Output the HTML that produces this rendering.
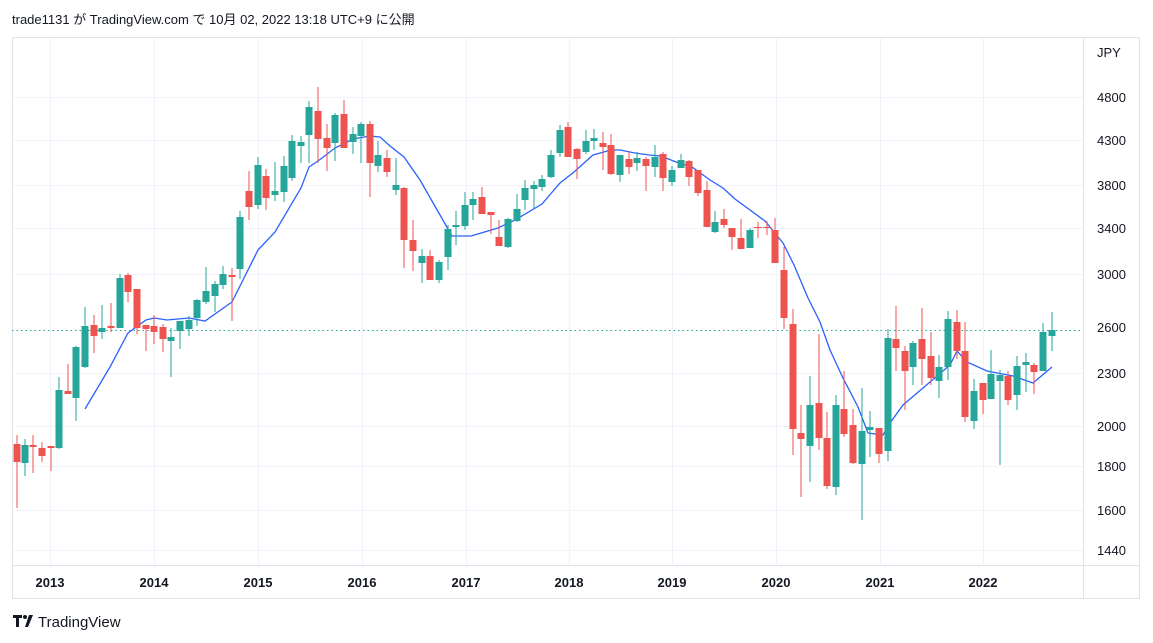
<!DOCTYPE html>
<html><head><meta charset="utf-8"><style>
html,body{margin:0;padding:0;background:#fff;width:1153px;height:643px;overflow:hidden}
svg{display:block;font-family:"Liberation Sans","Noto Sans CJK JP",sans-serif}
</style></head><body>
<svg width="1153" height="643" viewBox="0 0 1153 643" xmlns="http://www.w3.org/2000/svg">
<rect width="1153" height="643" fill="#fff"/>
<text x="12" y="24" font-size="13" fill="#131722">trade1131 が TradingView.com で 10月 02, 2022 13:18 UTC+9 に公開</text>
<rect x="12.5" y="37.5" width="1127" height="561" fill="none" stroke="#e0e3eb"/>
<g stroke="#f0f3fa" stroke-width="1">
<path d="M12 97.5H1083M12 140.5H1083M12 185.5H1083M12 228.5H1083M12 274.5H1083M12 373.5H1083M12 426.5H1083M12 466.5H1083M12 510.5H1083M12 550.5H1083"/>
<path d="M50.5 38V565M154.5 38V565M258.5 38V565M362.5 38V565M466.5 38V565M569.5 38V565M672.5 38V565M776.5 38V565M880.5 38V565M983.5 38V565"/>
</g>
<path d="M1083.5 38V598M12 565.5H1140" stroke="#e0e3eb"/>
<path d="M12 330.5H1083" stroke="#26a69a" stroke-dasharray="1.5,3"/>
<polyline fill="none" stroke="#2962ff" stroke-width="1.3" points="85,409 110,367 128,333 146,320 154,318 167,320 189,318 205,321 232,302 258,250 275,232 301,188 309,167 318,161 335,148 353,139 370,136 380,137 390,146 404,157 420,180 440,215 452,236 471,236 498,228 515,220 542,204 560,183 574,172 593,155 611,150 620,150 635,153 649,155 661,156 676,162 692,167 710,180 723,188 735,199 765,221 783,243 794,265 808,298 820,322 830,350 843,378 858,407 868,433 883,435 890,423 903,405 950,365 957,351 967,362 987,371 1013,376 1033,383 1052,367"/>
<g stroke="#26a69a" stroke-width="1" fill="none">
<path d="M25 439V476M59 377V449M76 346V421M85 307V368M102 305V339M120 274V328M171 328V377M180 321V349M189 316V336M197 299V326M206 267V304M215 281V312M223 266V289M240 211V279M258 157V209M275 162V201M284 156V202M292 135V181M301 136V163M309 101V163M335 113V161M353 127V154M361 122V163M378 141V172M396 158V195M422 249V283M439 260V283M448 225V270M456 211V245M465 192V230M473 192V220M508 218V248M517 194V222M525 180V210M534 181V208M542 175V191M551 150V178M560 125V157M586 130V154M594 129V150M620 155V182M637 152V171M655 145V177M672 166V186M681 154V168M715 211V233M750 228V248M810 376V482M836 395V495M862 388V520M870 411V457M888 329V461M913 341V385M939 355V398M948 311V380M974 379V429M991 350V399M1000 370V465M1017 356V410M1026 353V392M1043 323V371M1052 312V351"/>
</g>
<g fill="#26a69a">
<rect x="21.5" y="445" width="7" height="18"/><rect x="55.5" y="390" width="7" height="58"/><rect x="72.5" y="347" width="7" height="51"/><rect x="81.5" y="326" width="7" height="41"/><rect x="98.5" y="328" width="7" height="4"/><rect x="116.5" y="278" width="7" height="50"/><rect x="167.5" y="337" width="7" height="4"/><rect x="176.5" y="321" width="7" height="10"/><rect x="185.5" y="320" width="7" height="9"/><rect x="193.5" y="300" width="7" height="18"/><rect x="202.5" y="291" width="7" height="11"/><rect x="211.5" y="284" width="7" height="12"/><rect x="219.5" y="274" width="7" height="11"/><rect x="236.5" y="217" width="7" height="52"/><rect x="254.5" y="165" width="7" height="40"/><rect x="271.5" y="191" width="7" height="4"/><rect x="280.5" y="166" width="7" height="26"/><rect x="288.5" y="141" width="7" height="37"/><rect x="297.5" y="142" width="7" height="4"/><rect x="305.5" y="107" width="7" height="28"/><rect x="331.5" y="115" width="7" height="28"/><rect x="349.5" y="134" width="7" height="8"/><rect x="357.5" y="124" width="7" height="12"/><rect x="374.5" y="155" width="7" height="11"/><rect x="392.5" y="185" width="7" height="5"/><rect x="418.5" y="256" width="7" height="7"/><rect x="435.5" y="262" width="7" height="18"/><rect x="444.5" y="229" width="7" height="28"/><rect x="452.5" y="225" width="7" height="2"/><rect x="461.5" y="205" width="7" height="21"/><rect x="469.5" y="199" width="7" height="6"/><rect x="504.5" y="219" width="7" height="28"/><rect x="513.5" y="209" width="7" height="12"/><rect x="521.5" y="188" width="7" height="12"/><rect x="530.5" y="185" width="7" height="4"/><rect x="538.5" y="179" width="7" height="8"/><rect x="547.5" y="155" width="7" height="22"/><rect x="556.5" y="130" width="7" height="23"/><rect x="582.5" y="141" width="7" height="11"/><rect x="590.5" y="138" width="7" height="3"/><rect x="616.5" y="155" width="7" height="20"/><rect x="633.5" y="158" width="7" height="5"/><rect x="651.5" y="157" width="7" height="10"/><rect x="668.5" y="170" width="7" height="12"/><rect x="677.5" y="160" width="7" height="8"/><rect x="711.5" y="222" width="7" height="10"/><rect x="746.5" y="230" width="7" height="18"/><rect x="806.5" y="405" width="7" height="41"/><rect x="832.5" y="405" width="7" height="82"/><rect x="858.5" y="431" width="7" height="33"/><rect x="866.5" y="427" width="7" height="3"/><rect x="884.5" y="338" width="7" height="113"/><rect x="909.5" y="343" width="7" height="24"/><rect x="935.5" y="367" width="7" height="14"/><rect x="944.5" y="319" width="7" height="48"/><rect x="970.5" y="391" width="7" height="30"/><rect x="987.5" y="374" width="7" height="25"/><rect x="996.5" y="375" width="7" height="6"/><rect x="1013.5" y="366" width="7" height="29"/><rect x="1022.5" y="362" width="7" height="3"/><rect x="1039.5" y="332" width="7" height="39"/><rect x="1048.5" y="330" width="7" height="6"/>
</g>
<g stroke="#ef5350" stroke-width="1" fill="none">
<path d="M17 435V508M33 435V473M42 442V462M51 446V471M68 364V394M94 315V353M111 303V332M128 273V302M137 289V334M146 325V351M154 315V344M163 324V352M232 268V321M249 171V220M266 169V210M318 87V163M327 124V171M344 100V148M370 121V197M387 150V177M404 187V268M413 220V271M430 250V280M482 187V214M491 212V234M499 220V246M568 122V157M577 148V179M603 132V170M611 134V175M629 151V174M646 157V191M663 152V191M689 160V186M698 170V196M707 181V227M724 209V228M732 228V250M741 219V249M758 222V238M767 221V235M775 218V263M784 247V329M793 309V455M801 405V497M819 334V450M827 412V489M844 371V437M853 409V464M879 428V463M896 306V371M905 346V410M922 308V385M931 332V385M957 310V359M965 322V422M983 383V414M1008 371V405M1034 363V394"/>
<path d="M754 227.5H762M763 227.5H771"/>
</g>
<g fill="#ef5350">
<rect x="13.5" y="444" width="7" height="18"/><rect x="29.5" y="445" width="7" height="2"/><rect x="38.5" y="448" width="7" height="8"/><rect x="47.5" y="446" width="7" height="2"/><rect x="64.5" y="391" width="7" height="3"/><rect x="90.5" y="325" width="7" height="11"/><rect x="107.5" y="326" width="7" height="2"/><rect x="124.5" y="275" width="7" height="17"/><rect x="133.5" y="289" width="7" height="39"/><rect x="142.5" y="325" width="7" height="4"/><rect x="150.5" y="326" width="7" height="6"/><rect x="159.5" y="327" width="7" height="12"/><rect x="228.5" y="275" width="7" height="2"/><rect x="245.5" y="191" width="7" height="16"/><rect x="262.5" y="176" width="7" height="22"/><rect x="314.5" y="111" width="7" height="28"/><rect x="323.5" y="138" width="7" height="10"/><rect x="340.5" y="114" width="7" height="34"/><rect x="366.5" y="124" width="7" height="39"/><rect x="383.5" y="158" width="7" height="14"/><rect x="400.5" y="188" width="7" height="52"/><rect x="409.5" y="240" width="7" height="11"/><rect x="426.5" y="256" width="7" height="24"/><rect x="478.5" y="197" width="7" height="17"/><rect x="487.5" y="212" width="7" height="3"/><rect x="495.5" y="237" width="7" height="9"/><rect x="564.5" y="127" width="7" height="30"/><rect x="573.5" y="149" width="7" height="10"/><rect x="599.5" y="143" width="7" height="4"/><rect x="607.5" y="145" width="7" height="29"/><rect x="625.5" y="159" width="7" height="8"/><rect x="642.5" y="159" width="7" height="7"/><rect x="659.5" y="154" width="7" height="24"/><rect x="685.5" y="161" width="7" height="16"/><rect x="694.5" y="170" width="7" height="23"/><rect x="703.5" y="190" width="7" height="37"/><rect x="720.5" y="219" width="7" height="6"/><rect x="728.5" y="228" width="7" height="9"/><rect x="737.5" y="238" width="7" height="11"/><rect x="771.5" y="230" width="7" height="33"/><rect x="780.5" y="270" width="7" height="48"/><rect x="789.5" y="324" width="7" height="105"/><rect x="797.5" y="433" width="7" height="6"/><rect x="815.5" y="403" width="7" height="35"/><rect x="823.5" y="438" width="7" height="48"/><rect x="840.5" y="409" width="7" height="25"/><rect x="849.5" y="425" width="7" height="38"/><rect x="875.5" y="428" width="7" height="26"/><rect x="892.5" y="339" width="7" height="9"/><rect x="901.5" y="351" width="7" height="20"/><rect x="918.5" y="339" width="7" height="20"/><rect x="927.5" y="356" width="7" height="22"/><rect x="953.5" y="322" width="7" height="29"/><rect x="961.5" y="351" width="7" height="66"/><rect x="979.5" y="383" width="7" height="17"/><rect x="1004.5" y="376" width="7" height="24"/><rect x="1030.5" y="365" width="7" height="7"/>
</g>
<g font-size="13" fill="#131722">
<text x="1097" y="57">JPY</text>
<text x="1097" y="102">4800</text><text x="1097" y="145">4300</text><text x="1097" y="190">3800</text><text x="1097" y="233">3400</text><text x="1097" y="279">3000</text><text x="1097" y="332">2600</text><text x="1097" y="378">2300</text><text x="1097" y="431">2000</text><text x="1097" y="471">1800</text><text x="1097" y="515">1600</text><text x="1097" y="555">1440</text>
</g>
<g font-size="13" fill="#131722" text-anchor="middle" font-weight="bold">
<text x="50" y="587">2013</text><text x="154" y="587">2014</text><text x="258" y="587">2015</text><text x="362" y="587">2016</text><text x="466" y="587">2017</text><text x="569" y="587">2018</text><text x="672" y="587">2019</text><text x="776" y="587">2020</text><text x="880" y="587">2021</text><text x="983" y="587">2022</text>
</g>
<g fill="#131722">
<path d="M13 615h9v3h-3v9h-3v-9h-3z"/><circle cx="25" cy="617" r="2"/><path d="M29 615h4l-5 12h-3z"/>
<text x="38" y="627" font-size="15">TradingView</text>
</g>
</svg>
</body></html>
